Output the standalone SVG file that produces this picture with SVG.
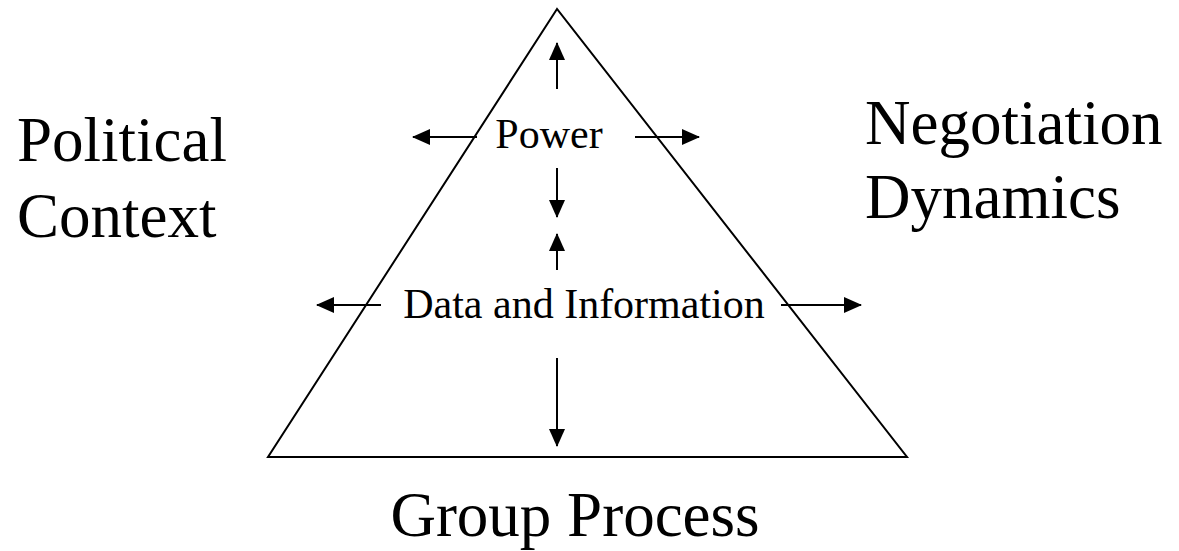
<svg xmlns="http://www.w3.org/2000/svg" width="1179" height="551" viewBox="0 0 1179 551">
<style>
.t{font-family:"Liberation Serif","Times New Roman",serif;fill:#000}
.big{font-size:63px}
.mid{font-size:42px}
.ln{stroke:#000;stroke-width:2;fill:none}
</style>
<defs>
<marker id="ah" markerUnits="userSpaceOnUse" markerWidth="18" markerHeight="16" viewBox="0 0 18 16" refX="17" refY="8" orient="auto">
<path d="M0,0 L18,8 L0,16 Z" fill="#000"/>
</marker>
</defs>
<rect width="1179" height="551" fill="#fff"/>
<g id="pyramid">
<polygon points="557,9 268,457 907,457" class="ln"/>
</g>
<g id="power">
<text class="t mid" x="549" y="148" text-anchor="middle">Power</text>
</g>
<g id="data">
<text class="t mid" x="584" y="318" text-anchor="middle">Data and Information</text>
</g>
<g id="political">
<text class="t big" x="17" y="161">Political</text>
<text class="t big" x="17" y="237">Context</text>
</g>
<g id="negotiation">
<text class="t big" x="865" y="144">Negotiation</text>
<text class="t big" x="865" y="218">Dynamics</text>
</g>
<g id="group">
<text class="t big" x="575" y="536" text-anchor="middle">Group Process</text>
</g>
<g id="connectors" class="ln" marker-end="url(#ah)">
<line x1="557" y1="89" x2="557" y2="43"/>
<line x1="477" y1="137" x2="413" y2="137"/>
<line x1="635" y1="137" x2="699" y2="137"/>
<line x1="557" y1="168" x2="557" y2="217"/>
<line x1="557" y1="270" x2="557" y2="234"/>
<line x1="381" y1="305" x2="317" y2="305"/>
<line x1="781" y1="305" x2="861" y2="305"/>
<line x1="557" y1="358" x2="557" y2="446"/>
</g>
</svg>
